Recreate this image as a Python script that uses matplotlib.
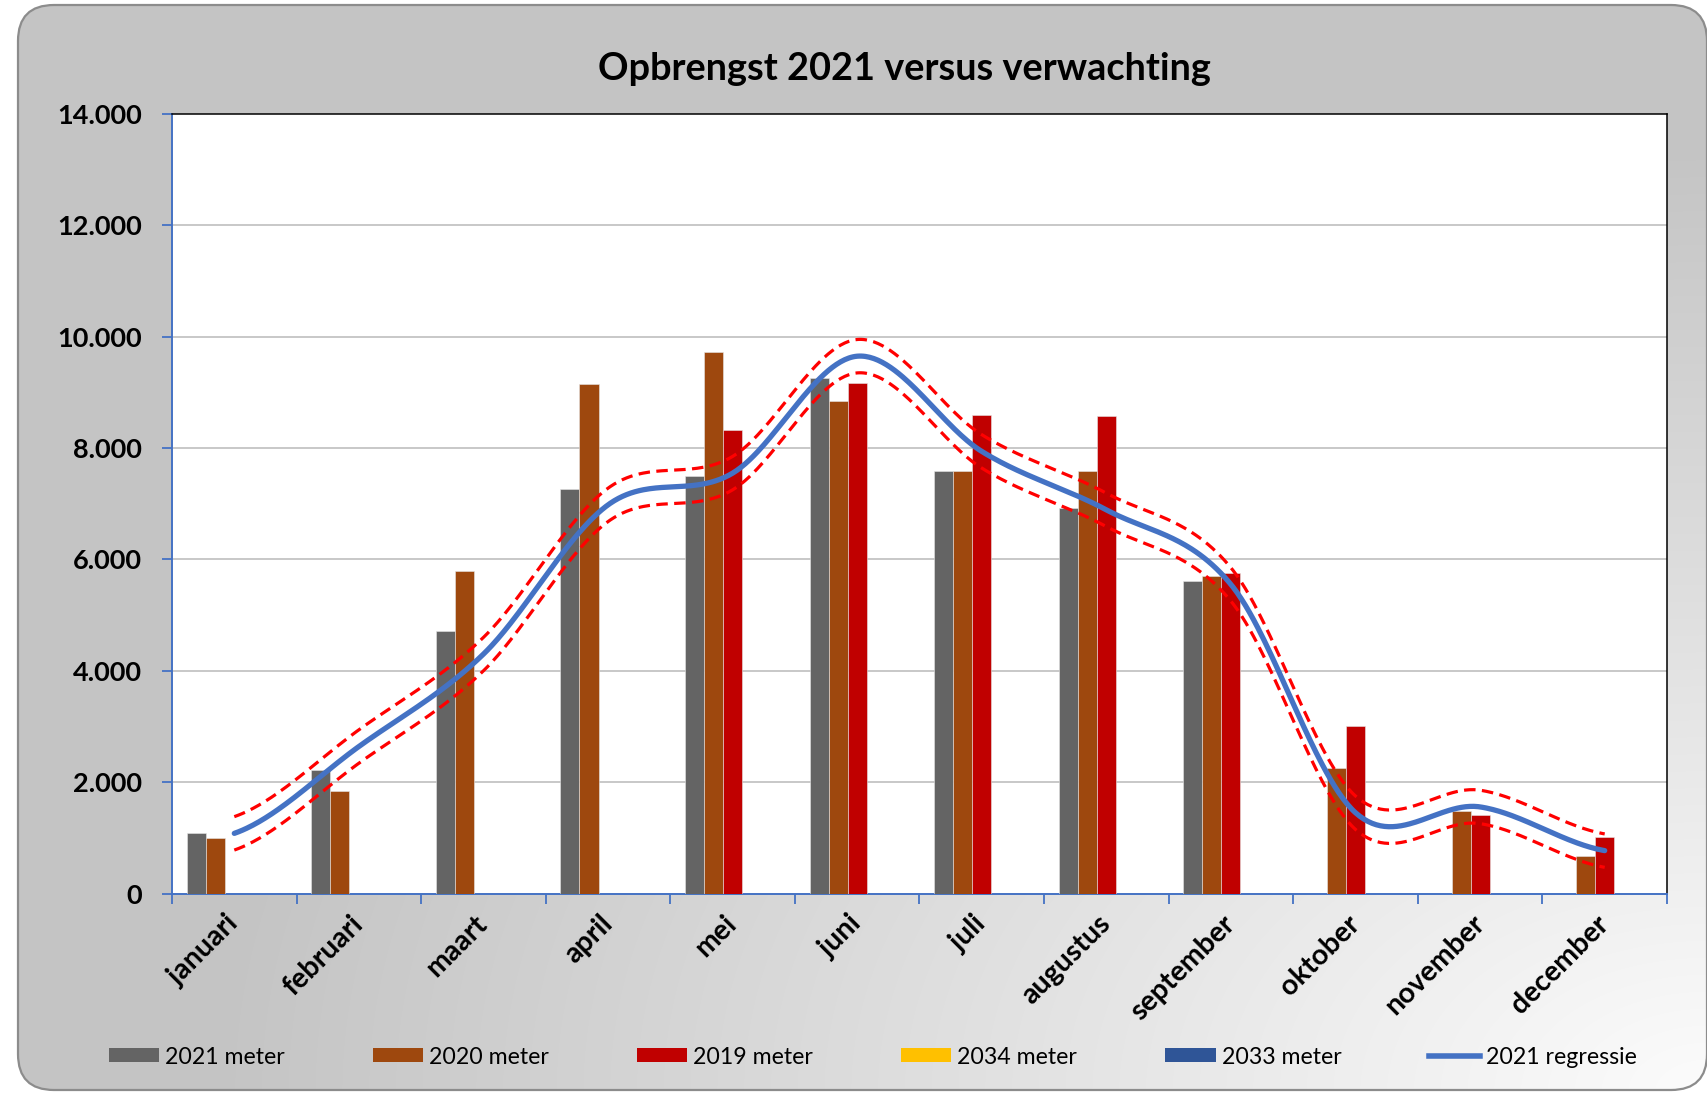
import numpy as np
import matplotlib
matplotlib.use("Agg")
import matplotlib.pyplot as plt
from matplotlib.patches import FancyBboxPatch, Patch
from matplotlib.lines import Line2D
from matplotlib.ticker import FixedLocator, FuncFormatter

plt.rcParams['font.family'] = ['Lato', 'DejaVu Sans']

# ---------------- data ----------------
months = ["januari", "februari", "maart", "april", "mei", "juni", "juli",
          "augustus", "september", "oktober", "november", "december"]
series_names = ["2021 meter", "2020 meter", "2019 meter", "2034 meter", "2033 meter"]
m2021 = [1080, 2210, 4720, 7265, 7500, 9260, 7580, 6930, 5620, np.nan, np.nan, np.nan]
m2020 = [1000, 1840, 5800, 9145, 9730, 8850, 7580, 7580, 5700, 2250, 1490, 670]
m2019 = [np.nan, np.nan, np.nan, np.nan, 8320, 9165, 8600, 8580, 5760, 3015, 1410, 1020]
m2034 = [np.nan] * 12
m2033 = [np.nan] * 12
reg2021 = [1080, 2640, 4300, 6980, 7550, 9650, 7940, 6890, 5550, 1450, 1555, 770]
reg_upper = [1380, 2940, 4600, 7280, 7850, 9950, 8240, 7190, 5850, 1750, 1855, 1070]
reg_lower = [780, 2340, 4000, 6680, 7250, 9350, 7640, 6590, 5250, 1150, 1255, 470]
yticks = [0, 2000, 4000, 6000, 8000, 10000, 12000, 14000]
title = "Opbrengst 2021 versus verwachting"

colors = ["#646464", "#9E480E", "#C00000", "#FFC000", "#2F5597"]
reg_color = "#4472C4"
band_color = "#FF0000"


def smooth(vals, n=60):
    """Excel-style smoothed line (Catmull-Rom through the points)."""
    p = np.asarray(vals, float)
    pad = np.concatenate([[p[0]], p, [p[-1]]])
    xs, ys = [], []
    for i in range(len(p) - 1):
        p0, p1, p2, p3 = pad[i], pad[i + 1], pad[i + 2], pad[i + 3]
        m1 = (p2 - p0) / 2.0
        m2 = (p3 - p1) / 2.0
        t = np.linspace(0, 1, n, endpoint=(i == len(p) - 2))
        h00 = 2 * t**3 - 3 * t**2 + 1
        h10 = t**3 - 2 * t**2 + t
        h01 = -2 * t**3 + 3 * t**2
        h11 = t**3 - t**2
        ys.append(h00 * p1 + h10 * m1 + h01 * p2 + h11 * m2)
        xs.append(i + t)
    return np.concatenate(xs), np.concatenate(ys)


W, H = 1708, 1093
fig = plt.figure(figsize=(W / 100, H / 100), dpi=100)
fig.patch.set_facecolor("white")

# ---------------- background panel ----------------
bg = fig.add_axes([0, 0, 1, 1])
bg.set_xlim(0, W)
bg.set_ylim(H, 0)
bg.axis("off")
yy, xx = np.mgrid[0:H, 0:W]
d = np.sqrt(((W - xx) / 1500.0) ** 2 + ((H - yy) / 950.0) ** 2)
f = np.clip(1 - d, 0, 1)
val = (196 + 56 * f) / 255.0
img = np.dstack([val, val, val])
im = bg.imshow(img, extent=(0, W, H, 0), aspect="auto", zorder=0, interpolation="bilinear")
box = FancyBboxPatch((18, 5), 1689, 1085, boxstyle="round,pad=0,rounding_size=36",
                     transform=bg.transData, facecolor="none", edgecolor="#8c8c8c", lw=1.6, zorder=2)
bg.add_patch(box)
im.set_clip_path(box)

# ---------------- main axes ----------------
ax = fig.add_axes([172 / W, 1 - 893.5 / H, 1495 / W, (893.5 - 114) / H])
ax.set_facecolor("white")

x = np.arange(len(months))
bw = 0.153
all_series = [m2021, m2020, m2019, m2034, m2033]
for k, (vals, c) in enumerate(zip(all_series, colors)):
    ax.bar(x + (k - 2) * bw, np.nan_to_num(vals, nan=0.0), width=bw, color=c,
           edgecolor="#e6e6e6", linewidth=0.4, zorder=3)

xs, ys = smooth(reg_upper)
ax.plot(xs, ys, color=band_color, lw=2.3, dashes=(3.6, 2.0), zorder=4)
xs, ys = smooth(reg_lower)
ax.plot(xs, ys, color=band_color, lw=2.3, dashes=(3.6, 2.0), zorder=4)
xs, ys = smooth(reg2021)
ax.plot(xs, ys, color=reg_color, lw=3.8, solid_capstyle="round", zorder=5)

ax.set_xlim(-0.5, 11.5)
ax.set_ylim(0, 14000)
ax.yaxis.set_major_locator(FixedLocator(yticks))
ax.yaxis.set_major_formatter(FuncFormatter(lambda v, p: f"{v:,.0f}".replace(",", ".")))
for v in yticks[1:-1]:
    ax.axhline(v, color="#BFBFBF", lw=1.2, zorder=1)

ax.set_xticks(x)
ax.set_xticklabels(months, rotation=45, ha="right", va="center", rotation_mode="anchor",
                   fontsize=20.5, fontweight="bold")
ax.set_xticks(np.arange(-0.5, 12, 1), minor=True)
ax.tick_params(axis="x", which="major", length=0, pad=19)
ax.tick_params(axis="x", which="minor", length=7, width=1.3, color=reg_color, direction="out")
ax.tick_params(axis="y", which="major", length=7, width=1.3, color=reg_color, pad=14.5,
               labelsize=19.5)
for lab in ax.get_yticklabels():
    lab.set_fontweight("bold")

for s in ["left", "bottom"]:
    ax.spines[s].set_color(reg_color)
    ax.spines[s].set_linewidth(1.4)
for s in ["top", "right"]:
    ax.spines[s].set_color("black")
    ax.spines[s].set_linewidth(1.1)

# ---------------- title ----------------
fig.text(904 / W, 1 - 80 / H, title, ha="center", va="baseline",
         fontsize=27.3, fontweight="bold")

# ---------------- legend ----------------
handles = [Patch(facecolor=c, edgecolor="none") for c in colors]
handles.append(Line2D([0], [0], color=reg_color, lw=4))
labels = series_names + ["2021 regressie"]
fig.legend(handles, labels, loc="center left", bbox_to_anchor=(109 / W, 1 - 1057 / H),
           ncol=6, frameon=False, fontsize=16.7, handlelength=2.16, handleheight=0.57,
           handletextpad=0.26, columnspacing=3.8, borderpad=0, borderaxespad=0)

fig.savefig("out.png", dpi=100, facecolor=fig.get_facecolor())
